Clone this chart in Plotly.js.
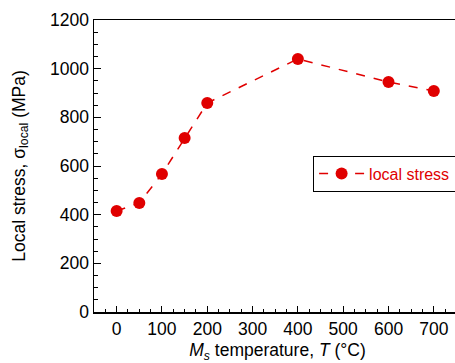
<!DOCTYPE html>
<html>
<head>
<meta charset="utf-8">
<script src="https://cdn.plot.ly/plotly-3.0.1.min.js"></script>
<style>
html,body{margin:0;padding:0;overflow:hidden;background:#fff;}
#chart{width:470px;height:363px;}
</style>
</head>
<body>
<div id="chart"></div>
<script>
const temperatures = [0, 50, 100, 150, 200, 400, 600, 700];
const localStress = [415, 448, 567, 715, 859, 1040, 945, 908];
const seriesName = 'local stress';

const red = '#e00000';
const font = 'Liberation Sans, Arial, sans-serif';

const trace = {
  x: temperatures,
  y: localStress,
  name: seriesName,
  type: 'scatter',
  mode: 'lines+markers',
  line: {color: red, width: 1.5, dash: 'dash'},
  marker: {color: red, size: 12}
};

const layout = {
  width: 470,
  height: 363,
  margin: {l: 94, r: 9, t: 20, b: 51},
  paper_bgcolor: '#fff',
  plot_bgcolor: '#fff',
  font: {family: font, size: 17.5, color: '#000'},
  showlegend: true,
  legend: {
    x: 0.597, y: 0.474, xanchor: 'left', yanchor: 'middle',
    bordercolor: '#000', borderwidth: 1, bgcolor: '#fff',
    font: {family: font, size: 16, color: red},
    itemwidth: 45
  },
  xaxis: {
    range: [-50, 760],
    tickvals: [0, 100, 200, 300, 400, 500, 600, 700],
    ticks: 'inside', ticklen: 6, tickcolor: '#000', tickwidth: 1,
    minor: {dtick: 25, tick0: 0, ticks: 'inside', ticklen: 3, tickcolor: '#000'},
    showline: true, linecolor: '#000', linewidth: 1.5, mirror: true,
    showgrid: false, zeroline: false,
    tickfont: {size: 17.5},
    title: {text: '<i>M</i><sub><i>s</i></sub> temperature, <i>T</i> (°C)', font: {size: 17.5}, standoff: 8}
  },
  yaxis: {
    range: [0, 1200],
    tickvals: [0, 200, 400, 600, 800, 1000, 1200],
    ticks: 'inside', ticklen: 7, tickcolor: '#000', tickwidth: 1,
    minor: {dtick: 50, tick0: 0, ticks: 'inside', ticklen: 4, tickcolor: '#000'},
    showline: true, linecolor: '#000', linewidth: 1.5, mirror: true,
    showgrid: false, zeroline: false,
    tickfont: {size: 17.5},
    title: {text: 'Local stress, σ<sub>local</sub> (MPa)', font: {size: 17.5}, standoff: 20}
  }
};

Plotly.newPlot('chart', [trace], layout, {displayModeBar: false, staticPlot: true});
</script>
</body>
</html>
